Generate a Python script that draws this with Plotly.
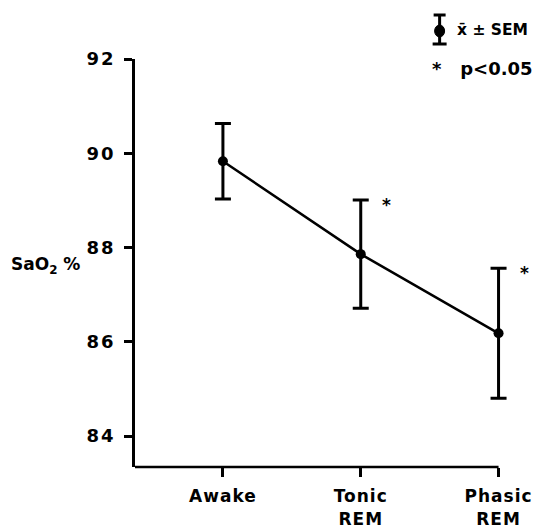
import plotly.graph_objects as go

# ---- data ----
categories = ["Awake", "Tonic<br>REM", "Phasic<br>REM"]
sao2_mean = [89.83, 87.86, 86.18]
sao2_sem = [0.80, 1.15, 1.38]
significant = [False, True, True]
y_ticks = [84, 86, 88, 90, 92]

FONT = "DejaVu Sans"
W, H = 542, 530
X_LO, X_HI = -0.638, 2.25
L, R, T, B = 135, 8.5, 59, 63
pw, ph = W - L - R, H - T - B


def px(x):
    return (x - L) / pw


def py(y):
    return (H - B - y) / ph


xs = list(range(len(categories)))

fig = go.Figure()
fig.add_trace(go.Scatter(
    x=xs, y=sao2_mean, mode="lines+markers",
    line=dict(color="black", width=2.5),
    marker=dict(color="black", size=10),
    error_y=dict(type="data", array=sao2_sem, visible=True,
                 color="black", thickness=3, width=8),
    showlegend=False, cliponaxis=False, hoverinfo="skip",
))

annotations = []
for i, (m, s, sig) in enumerate(zip(sao2_mean, sao2_sem, significant)):
    if sig:
        annotations.append(dict(
            x=i + 0.185, y=m + s, xref="x", yref="y", text="<b>*</b>",
            showarrow=False, font=dict(family=FONT, size=17, color="#000000"),
            xanchor="center", yanchor="middle", yshift=-5))

annotations.append(dict(
    x=px(9), y=py(265), xref="paper", yref="paper",
    text="<b>SaO<sub>2</sub> %</b>", showarrow=False,
    font=dict(family=FONT, size=17, color="#000000"),
    xanchor="left", yanchor="middle"))
annotations.append(dict(
    x=px(455), y=py(30), xref="paper", yref="paper",
    text="<b>x\u0304 \u00b1 SEM</b>", showarrow=False,
    font=dict(family=FONT, size=15.5, color="#000000"),
    xanchor="left", yanchor="middle"))
annotations.append(dict(
    x=px(430), y=py(68), xref="paper", yref="paper",
    text="<b>*   p&lt;0.05</b>", showarrow=False,
    font=dict(family=FONT, size=18, color="#000000"),
    xanchor="left", yanchor="middle"))

shapes = [
    # x axis line ending at the last category tick
    dict(type="line", xref="x", yref="paper", x0=X_LO, x1=xs[-1],
         y0=0, y1=0, line=dict(color="black", width=2.5)),
    # legend icon
    dict(type="line", xref="paper", yref="paper", x0=px(440), x1=px(440),
         y0=py(15), y1=py(44), line=dict(color="black", width=3)),
    dict(type="line", xref="paper", yref="paper", x0=px(434), x1=px(446),
         y0=py(15), y1=py(15), line=dict(color="black", width=3)),
    dict(type="line", xref="paper", yref="paper", x0=px(433), x1=px(447),
         y0=py(44), y1=py(44), line=dict(color="black", width=3)),
    dict(type="circle", xref="paper", yref="paper", x0=px(435), x1=px(445),
         y0=py(37), y1=py(25), fillcolor="black", line=dict(color="black", width=1)),
]

fig.update_layout(
    width=W, height=H,
    margin=dict(l=L, r=R, t=T, b=B, pad=0, autoexpand=False),
    paper_bgcolor="white", plot_bgcolor="white",
    font=dict(family=FONT, color="black"),
    annotations=annotations, shapes=shapes,
    xaxis=dict(
        range=[X_LO, X_HI], tickvals=xs, ticktext=["<b>%s</b>" % c for c in categories],
        showline=False, automargin=False,
        ticks="outside", ticklen=9, tickwidth=2.5, tickcolor="black",
        showgrid=False, zeroline=False, ticklabelstandoff=5,
        tickfont=dict(family=FONT, size=17, color="black"),
    ),
    yaxis=dict(
        range=[83.344, 92.0], tickvals=y_ticks, ticktext=["<b>%d</b>" % t for t in y_ticks],
        showline=True, linecolor="black", linewidth=2.5, automargin=False,
        ticks="outside", ticklen=8, tickwidth=2.5, tickcolor="black",
        showgrid=False, zeroline=False, ticklabelstandoff=5,
        tickfont=dict(family=FONT, size=18, color="black"),
    ),
)

post = """
document.body.style.margin='0';
var gd = document.getElementById('{plot_id}');
gd.querySelectorAll('.ytick text').forEach(function(t){t.style.letterSpacing='2px';});
gd.querySelectorAll('.xtick text').forEach(function(t){t.style.letterSpacing='1px';});
"""
fig.write_html("out.html", post_script=post, config={"displayModeBar": False})
